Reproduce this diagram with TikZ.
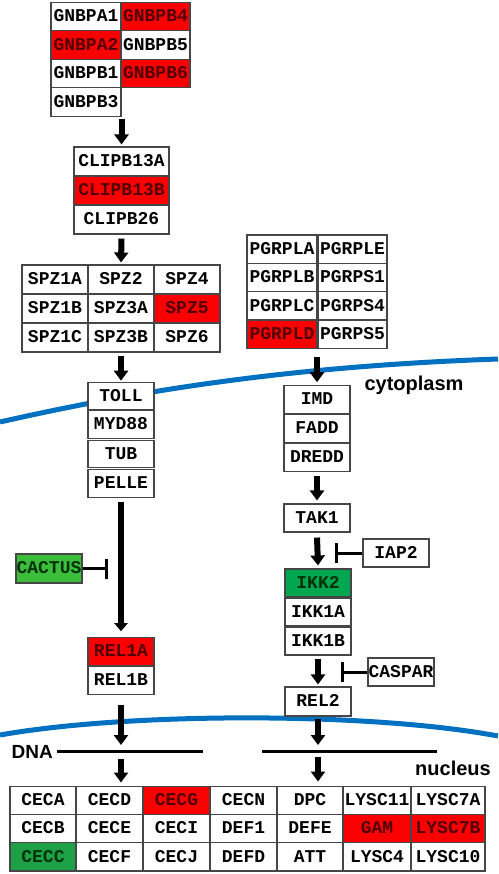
\documentclass[tikz,border=0pt]{standalone}
\usepackage{fontspec}
\newfontfamily\monof{Liberation Mono}
\newfontfamily\labf{Liberation Sans}
\usetikzlibrary{arrows.meta,calc}
\definecolor{cred}{RGB}{250,0,0}
\definecolor{rtext}{RGB}{80,0,0}
\definecolor{gtext}{RGB}{0,50,10}
\definecolor{gcactus}{RGB}{60,190,60}
\definecolor{gikk}{RGB}{0,166,80}
\definecolor{gcecc}{RGB}{30,160,70}
\definecolor{bord}{RGB}{70,70,70}
\definecolor{membc}{RGB}{0,112,192}
\tikzset{
  cell/.style={draw=bord, line width=1.1pt, fill=white, inner sep=0pt, text=black,
    font=\monof\bfseries\fontsize{18}{20}\selectfont, text height=10.5pt, text depth=0pt},
  rcell/.style={cell, fill=cred, text=rtext},
  gcell/.style={cell, fill=#1, text=gtext},
  sz/.style 2 args={minimum width=#1pt, minimum height=#2pt},
  arr/.style={line width=6pt, -{Triangle[width=14pt,length=10pt]}},
  longarr/.style={line width=6pt, -{Triangle[width=13pt,length=8pt]}},
  inh/.style={line width=3pt, -{Bar[width=20pt]}},
  memb/.style={line width=5pt, draw=membc},
  dnaline/.style={line width=3pt},
  lab/.style={font=\labf\bfseries\fontsize{20}{22}\selectfont, inner sep=0pt}
}
\begin{document}
\begin{tikzpicture}[x=1pt,y=-1pt]
\useasboundingbox (0,0) rectangle (498,874);
% membranes
\draw[memb] (0,422) .. controls (150,388) and (300,366) .. (498,359);
\draw[memb] (0,735) .. controls (130,712) and (370,712) .. (498,736);
% GNBP
\node[cell,sz={70}{28.5}] (gA1) at (86,16.5) {GNBPA1};
\node[rcell,sz={69}{28.5}] (gB4) at (155.5,16.5) {GNBPB4};
\node[rcell,sz={70}{28.5}] (gA2) at (86,45) {GNBPA2};
\node[cell,sz={69}{28.5}] (gB5) at (155.5,45) {GNBPB5};
\node[cell,sz={70}{28.5}] (gB1) at (86,73.5) {GNBPB1};
\node[rcell,sz={69}{28.5}] (gB6) at (155.5,73.5) {GNBPB6};
\node[cell,sz={70}{28.5}] (gB3) at (86,102) {GNBPB3};
% CLIPB
\node[cell,sz={95}{29}] (clipA) at (121.5,161.5) {CLIPB13A};
\node[rcell,sz={95}{29}] (clipB) at (121.5,190.5) {CLIPB13B};
\node[cell,sz={95}{29}] (clipC) at (121.5,219.5) {CLIPB26};
% SPZ
\node[cell,sz={66}{29}] (spz1A) at (55,279.5) {SPZ1A};
\node[cell,sz={66}{29}] (spz2) at (121,279.5) {SPZ2};
\node[cell,sz={66}{29}] (spz4) at (187,279.5) {SPZ4};
\node[cell,sz={66}{29}] (spz1B) at (55,308.5) {SPZ1B};
\node[cell,sz={66}{29}] (spz3A) at (121,308.5) {SPZ3A};
\node[rcell,sz={66}{29}] (spz5) at (187,308.5) {SPZ5};
\node[cell,sz={66}{29}] (spz1C) at (55,337.5) {SPZ1C};
\node[cell,sz={66}{29}] (spz3B) at (121,337.5) {SPZ3B};
\node[cell,sz={66}{29}] (spz6) at (187,337.5) {SPZ6};
% PGRP
\node[cell,sz={70}{28.3}] (pLA) at (282,249.2) {PGRPLA};
\node[cell,sz={70}{28.3}] (pLB) at (282,277.5) {PGRPLB};
\node[cell,sz={70}{28.3}] (pLC) at (282,305.8) {PGRPLC};
\node[rcell,sz={70}{28.3}] (pLD) at (282,334.2) {PGRPLD};
\node[cell,sz={69}{28.3}] (pLE) at (352.5,249.2) {PGRPLE};
\node[cell,sz={69}{28.3}] (pS1) at (352.5,277.5) {PGRPS1};
\node[cell,sz={69}{28.3}] (pS4) at (352.5,305.8) {PGRPS4};
\node[cell,sz={69}{28.3}] (pS5) at (352.5,334.2) {PGRPS5};
% Toll column
\node[cell,sz={66}{27.5}] (toll) at (121,396) {TOLL};
\node[cell,sz={66}{27.5}] (myd) at (121,424.5) {MYD88};
\node[cell,sz={66}{27.5}] (tub) at (121,454) {TUB};
\node[cell,sz={66}{27.5}] (pelle) at (121,483.5) {PELLE};
\node[gcell=gcactus,sz={66}{29}] (cactus) at (49,568.5) {CACTUS};
\node[rcell,sz={66}{27.5}] (rel1A) at (121,651.5) {REL1A};
\node[cell,sz={66}{27.5}] (rel1B) at (121,680.5) {REL1B};
% IMD column
\node[cell,sz={66}{27.5}] (imd) at (317,399.5) {IMD};
\node[cell,sz={66}{27.5}] (fadd) at (317,428.5) {FADD};
\node[cell,sz={66}{27.5}] (dredd) at (317,457.5) {DREDD};
\node[cell,sz={66}{28}] (tak1) at (317,518) {TAK1};
\node[cell,sz={66}{28}] (iap2) at (396,553) {IAP2};
\node[gcell=gikk,sz={66}{28}] (ikk2) at (318,583) {IKK2};
\node[cell,sz={66}{28}] (ikk1A) at (318,612) {IKK1A};
\node[cell,sz={66}{28}] (ikk1B) at (318,641) {IKK1B};
\node[cell,sz={66}{28}] (caspar) at (401,672) {CASPAR};
\node[cell,sz={66}{29}] (rel2) at (318,701.5) {REL2};
% bottom table
\node[cell,sz={66}{28.3}] (ceca) at (43,800.2) {CECA};
\node[cell,sz={67}{28.3}] (cecd) at (109.5,800.2) {CECD};
\node[rcell,sz={67}{28.3}] (cecg) at (176.5,800.2) {CECG};
\node[cell,sz={67}{28.3}] (cecn) at (243.5,800.2) {CECN};
\node[cell,sz={66}{28.3}] (dpc) at (310,800.2) {DPC};
\node[cell,sz={68}{28.3}] (lysc11) at (377,800.2) {LYSC11};
\node[cell,sz={74}{28.3}] (lysc7a) at (448,800.2) {LYSC7A};
\node[cell,sz={66}{28.3}] (cecb) at (43,828.5) {CECB};
\node[cell,sz={67}{28.3}] (cece) at (109.5,828.5) {CECE};
\node[cell,sz={67}{28.3}] (ceci) at (176.5,828.5) {CECI};
\node[cell,sz={67}{28.3}] (def1) at (243.5,828.5) {DEF1};
\node[cell,sz={66}{28.3}] (defe) at (310,828.5) {DEFE};
\node[rcell,sz={68}{28.3}] (gam) at (377,828.5) {GAM};
\node[rcell,sz={74}{28.3}] (lysc7b) at (448,828.5) {LYSC7B};
\node[gcell=gcecc,sz={66}{28.3}] (cecc) at (43,856.8) {CECC};
\node[cell,sz={67}{28.3}] (cecf) at (109.5,856.8) {CECF};
\node[cell,sz={67}{28.3}] (cecj) at (176.5,856.8) {CECJ};
\node[cell,sz={67}{28.3}] (defd) at (243.5,856.8) {DEFD};
\node[cell,sz={66}{28.3}] (att) at (310,856.8) {ATT};
\node[cell,sz={68}{28.3}] (lysc4) at (377,856.8) {LYSC4};
\node[cell,sz={74}{28.3}] (lysc10) at (448,856.8) {LYSC10};
% labels
\node[lab] (cyto) at (414,385) {cytoplasm};
\node[lab] (nucl) at (453,768) {nucleus};
\node[lab,anchor=east,font=\labf\bfseries\fontsize{19}{22}\selectfont] (dna) at (53,752) {DNA};
% DNA lines
\coordinate (dnaL1) at (203,751);
\coordinate (dnaR0) at (262,751);
\coordinate (dnaR1) at (437,751);
\draw[dnaline] ($(dna.east |- dnaL1)+(4,0)$) -- (dnaL1);
\draw[dnaline] (dnaR0) -- (dnaR1);
% arrows
\draw[arr] ($(clipA.north |- gB3.south)+(0,2)$) -- ($(clipA.north)+(0,-2)$);
\draw[arr] ($(clipC.south)+(0,4)$) -- ($(spz2.north)+(0,-2)$);
\draw[arr] ($(spz3B.south)+(0,3)$) -- ($(toll.north)+(0,-1)$);
\draw[arr] ($(imd.north |- pLD.south)+(0,8)$) -- ($(imd.north)+(0,-3)$);
\draw[arr] ($(dredd.south)+(0,4)$) -- ($(tak1.north)+(0,-3)$);
\draw[arr] ($(tak1.south)+(0,5)$) -- ($(ikk2.north)+(0,-3)$);
\draw[arr] ($(ikk1B.south)+(0,3)$) -- ($(rel2.north)+(0,-2)$);
\draw[longarr] ($(pelle.south)+(0,4)$) -- ($(rel1A.north)+(0,-6)$);
\draw[arr] ($(rel1B.south)+(0,10)$) -- ($(rel1B.south |- dnaL1)+(0,-6)$);
\draw[arr] ($(rel2.south)+(0,2)$) -- ($(rel2.south |- dnaR1)+(0,-6)$);
\draw[arr] ($(rel1B.south |- dnaL1)+(0,8)$) -- ($(rel1B.south |- cecd.north)+(0,-3)$);
\draw[arr] ($(rel2.south |- dnaR1)+(0,6)$) -- ($(rel2.south |- dpc.north)+(0,-4)$);
% inhibitions
\draw[inh] (cactus.east) -- ($(cactus.east)+(25,0)$);
\draw[inh] (iap2.west) -- ($(iap2.west)+(-27,0)$);
\draw[inh] (caspar.west) -- ($(caspar.west)+(-26,0)$);
\end{tikzpicture}
\end{document}
